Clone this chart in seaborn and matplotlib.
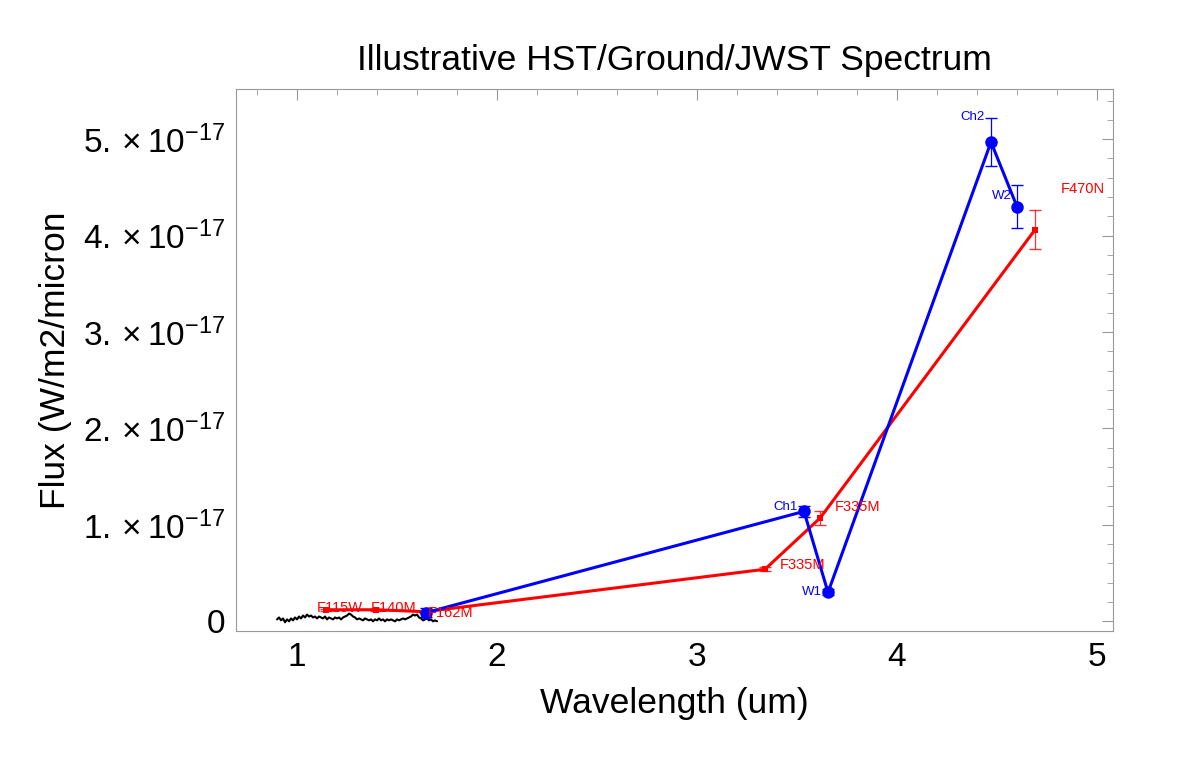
import numpy as np
import pandas as pd
import matplotlib
matplotlib.use('Agg')
import matplotlib.pyplot as plt
import matplotlib.ticker as mticker
import seaborn as sns

# black ground-based spectrum (um, 1e-17 W/m2/micron)
spec_wave = [0.90, 0.91, 0.92, 0.93, 0.94, 0.95, 0.96, 0.97, 0.98, 0.99,
             1.00, 1.01, 1.02, 1.03, 1.04, 1.05, 1.06, 1.07, 1.08, 1.09,
             1.10, 1.11, 1.12, 1.13, 1.14, 1.15, 1.16, 1.17, 1.18, 1.19,
             1.20, 1.21, 1.22, 1.23, 1.24, 1.25, 1.26, 1.27, 1.28, 1.29,
             1.30, 1.31, 1.32, 1.33, 1.34, 1.35, 1.36, 1.37, 1.38, 1.39,
             1.40, 1.41, 1.42, 1.43, 1.44, 1.45, 1.46, 1.47, 1.48, 1.49,
             1.50, 1.51, 1.52, 1.53, 1.54, 1.55, 1.56, 1.57, 1.58, 1.59,
             1.60, 1.61, 1.62, 1.63, 1.64, 1.65, 1.66, 1.67, 1.68, 1.69, 1.70]
spec_flux = [0.02, 0.04, 0.01, 0.03, -0.01, 0.02, 0.00, 0.03, 0.01, 0.04,
             0.02, 0.05, 0.03, 0.06, 0.04, 0.07, 0.05, 0.06, 0.04, 0.05,
             0.03, 0.05, 0.04, 0.03, 0.05, 0.02, 0.04, 0.03, 0.02, 0.04,
             0.03, 0.04, 0.02, 0.04, 0.05, 0.06, 0.08, 0.07, 0.05, 0.04,
             0.02, 0.03, 0.02, 0.01, 0.03, 0.02, 0.01, 0.02, 0.00, 0.02,
             0.01, 0.03, 0.01, 0.02, 0.00, 0.02, 0.01, 0.02, 0.01, 0.00,
             0.02, 0.01, 0.02, 0.03, 0.02, 0.03, 0.04, 0.05, 0.07, 0.06,
             0.07, 0.04, 0.03, 0.01, 0.02, 0.03, 0.01, 0.02, 0.00, 0.01, 0.00]

# blue photometry
blue_wave = [1.645, 3.535, 3.655, 4.47, 4.60]
blue_flux = [0.09, 1.14, 0.30, 4.97, 4.30]
blue_err = [0.05, 0.06, 0.03, 0.25, 0.22]
blue_labels = ['', 'Ch1', 'W1', 'Ch2', 'W2']

# red photometry
red_wave = [1.145, 1.395, 1.64, 3.34, 3.615, 4.69]
red_flux = [0.12, 0.12, 0.10, 0.54, 1.07, 4.06]
red_err = [0.01, 0.01, 0.01, 0.02, 0.07, 0.20]
red_labels = ['F115W', 'F140M', 'F162M', 'F335M', 'F335M', 'F470N']

SCALE = 1e-17

sns.set_style('white')
plt.rcParams['font.family'] = ['Liberation Sans', 'DejaVu Sans']
plt.rcParams['mathtext.fontset'] = 'custom'
plt.rcParams['mathtext.rm'] = 'Liberation Sans'
plt.rcParams['mathtext.it'] = 'Liberation Sans'
plt.rcParams['text.color'] = 'black'
plt.rcParams['axes.labelcolor'] = 'black'
plt.rcParams['xtick.labelcolor'] = 'black'
plt.rcParams['ytick.labelcolor'] = 'black'

fig = plt.figure(figsize=(12, 7.69), dpi=100)
ax = fig.add_axes([0.1967, 0.1795, 0.7308, 0.7048])

spec = pd.DataFrame({'w': spec_wave, 'f': np.array(spec_flux) * SCALE})
blue = pd.DataFrame({'w': blue_wave, 'f': np.array(blue_flux) * SCALE})
red = pd.DataFrame({'w': red_wave, 'f': np.array(red_flux) * SCALE})

sns.lineplot(data=spec, x='w', y='f', sort=False, color='black', lw=1.5, ax=ax)
sns.lineplot(data=red, x='w', y='f', sort=False, color='red', lw=2.2,
             marker='s', markersize=5, markeredgewidth=0, ax=ax)
ax.errorbar(red_wave, red['f'], yerr=np.array(red_err) * SCALE, fmt='none',
            ecolor='red', elinewidth=0.9, capsize=4, alpha=0.8)
sns.lineplot(data=blue, x='w', y='f', sort=False, color='blue', lw=2.2,
             marker='o', markersize=9, markeredgewidth=0, ax=ax)
ax.errorbar(blue_wave, blue['f'], yerr=np.array(blue_err) * SCALE, fmt='none',
            ecolor='blue', elinewidth=0.9, capsize=4)

# labels
blue_dx = [0, -0.03, -0.03, -0.03, -0.025]
blue_dy = [0, 0.05, 0.0, 0.26, 0.11]
for w, f, t, dx, dy in zip(blue_wave, blue_flux, blue_labels, blue_dx, blue_dy):
    if t:
        ax.text(w + dx, (f + dy) * SCALE, t, color='blue', fontsize=9.5,
                ha='right', va='center')
red_dx = [-0.045, -0.025, 0.015, 0.075, 0.075, 0.13]
red_dy = [0.015, 0.015, -0.01, 0.04, 0.12, 0.42]
for w, f, t, dx, dy in zip(red_wave, red_flux, red_labels, red_dx, red_dy):
    ax.text(w + dx, (f + dy) * SCALE, t, color='red', fontsize=10.5,
            ha='left', va='center')

ax.set_xlim(0.695, 5.08)
ax.set_ylim(-0.1 * SCALE, 5.52 * SCALE)
ax.xaxis.set_major_locator(mticker.MultipleLocator(1))
ax.xaxis.set_minor_locator(mticker.MultipleLocator(0.2))
ax.yaxis.set_major_locator(mticker.MultipleLocator(SCALE))
ax.yaxis.set_minor_locator(mticker.MultipleLocator(0.2 * SCALE))


def yfmt(v, pos):
    n = int(round(v / SCALE))
    if n == 0:
        return '0'
    return r'$%d.\times10^{-17}$' % n


ax.yaxis.set_major_formatter(mticker.FuncFormatter(yfmt))
ax.tick_params(which='both', direction='in', top=True, right=True,
               color='#999999', labelsize=24)
ax.tick_params(which='major', length=8, width=0.8, pad=8)
ax.tick_params(which='minor', length=4, width=0.6)
for s in ax.spines.values():
    s.set_color('#999999')
    s.set_linewidth(0.8)

ax.set_xlabel('Wavelength (um)', fontsize=25.5, labelpad=10)
ax.set_ylabel('Flux (W/m2/micron', fontsize=25.5, labelpad=8)
ax.set_title('Illustrative HST/Ground/JWST Spectrum', fontsize=25.5, pad=14)

fig.savefig('out.png', dpi=100)
